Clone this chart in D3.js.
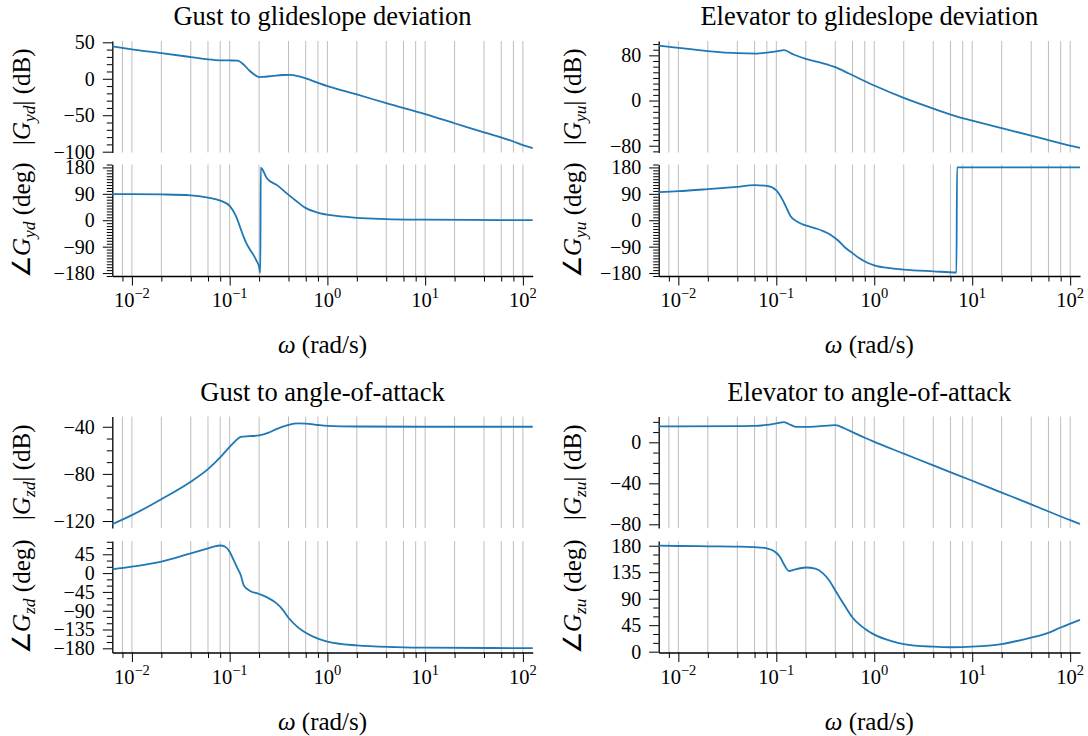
<!DOCTYPE html>
<html>
<head>
<meta charset="utf-8">
<script src="https://cdn.jsdelivr.net/npm/d3@7"></script>
<style>
  body { margin: 0; background: #fff; }
</style>
</head>
<body>
<div id="chart"></div>
<script>
/* Bode plots, 2x2 panels, magnitude over phase */

const titles = ["Gust to glideslope deviation", "Elevator to glideslope deviation",
                "Gust to angle-of-attack", "Elevator to angle-of-attack"];
const subs = ["yd", "yu", "zd", "zu"];

const xTickValues = [0.01, 0.1, 1, 10, 100];
const xTickExps = ["\u22122", "\u22121", "0", "1", "2"];

// Gust -> glideslope deviation
const gydMagW = [0.0063, 0.01, 0.02, 0.04, 0.06, 0.08, 0.1, 0.12, 0.14, 0.16, 0.18, 0.2, 0.22, 0.28, 0.35, 0.42, 0.5, 0.6, 0.8, 1, 2, 4, 10, 20, 40, 60, 80, 100, 126];
const gydMag  = [44.5, 40.4, 35.2, 29.8, 26.6, 25.3, 25.1, 24.8, 19, 11, 5.5, 2.3, 2.6, 4.1, 5.2, 5.4, 3.6, 0.5, -5.5, -10, -21.5, -33.5, -48.5, -61, -73.5, -80.5, -86, -91, -95];
const gydPhW  = [0.0063, 0.01, 0.02, 0.04, 0.06, 0.08, 0.1, 0.116, 0.137, 0.148, 0.16, 0.175, 0.189, 0.2, 0.206, 0.208, 0.24, 0.31, 0.39, 0.5, 0.59, 0.76, 1, 1.5, 2, 4, 10, 30, 126];
const gydPh   = [89, 89, 88, 85, 77, 67, 49, 14, -51, -78, -98, -118, -139, -158, -179, 179, 143, 118, 90, 61, 43, 28, 19, 12, 8, 4, 2, 1, 0.5];

// Elevator -> glideslope deviation
const gyuMagW = [0.0063, 0.01, 0.02, 0.04, 0.063, 0.08, 0.1, 0.12, 0.15, 0.2, 0.29, 0.4, 0.55, 1, 2, 4, 6.5, 10, 20, 40, 60, 100, 126];
const gyuMag  = [97.4, 93.3, 87.5, 83.8, 83.2, 84.8, 87, 89.1, 81.5, 73.8, 66.7, 59, 47.8, 26.6, 4.7, -14.2, -26.6, -35.5, -49, -62, -70, -80, -84];
const gyuPhW  = [0.0063, 0.01, 0.02, 0.04, 0.06, 0.08, 0.1, 0.117, 0.13, 0.14, 0.16, 0.18, 0.22, 0.26, 0.3, 0.36, 0.43, 0.5, 0.6, 0.7, 0.85, 1, 1.5, 2, 4, 6.9, 7.0, 10, 126];
const gyuPh   = [96, 99, 106, 114, 119.5, 117, 102, 67, 35, 14, -3, -12, -22, -29, -37, -50, -70, -92, -112, -129, -145, -154, -164, -168, -174, -178, 180, 180, 180];

// Gust -> angle of attack
const gzdMagW = [0.0063, 0.01, 0.02, 0.04, 0.06, 0.08, 0.1, 0.11, 0.12, 0.13, 0.16, 0.2, 0.25, 0.3, 0.4, 0.5, 0.6, 0.8, 1, 2, 10, 126];
const gzdMag  = [-122.7, -115, -101.5, -86.7, -76, -66, -57, -53.5, -50.5, -48.5, -48, -47.3, -45, -42, -38.5, -37.2, -37.3, -38.5, -39.2, -39.8, -40, -40];
const gzdPhW  = [0.0063, 0.01, 0.02, 0.04, 0.06, 0.07, 0.08, 0.09, 0.1, 0.11, 0.12, 0.13, 0.14, 0.16, 0.2, 0.25, 0.3, 0.35, 0.4, 0.5, 0.6, 0.8, 1, 2, 5, 10, 126];
const gzdPh   = [9, 15.4, 27.4, 47.3, 59.3, 64, 66, 63, 51, 31, 12, -5, -30, -42, -50, -60, -72, -88, -107, -130, -143, -157, -164, -173, -177, -178.5, -179.5];

// Elevator -> angle of attack
const gzuMagW = [0.0063, 0.01, 0.04, 0.06, 0.08, 0.1, 0.12, 0.14, 0.16, 0.2, 0.3, 0.4, 0.5, 0.6, 0.8, 1, 2, 4, 10, 20, 40, 100, 126];
const gzuMag  = [15.6, 15.6, 15.8, 16, 17, 18.5, 19.8, 17, 15, 15, 16, 16.8, 13.5, 10, 4.5, 0.5, -11, -22.5, -37.5, -49, -60.5, -76, -79.7];
const gzuPhW  = [0.0063, 0.01, 0.02, 0.04, 0.06, 0.08, 0.1, 0.11, 0.12, 0.135, 0.15, 0.2, 0.25, 0.3, 0.35, 0.4, 0.5, 0.6, 0.8, 1, 1.5, 2, 4, 6, 10, 20, 40, 60, 80, 126];
const gzuPh   = [180, 179.5, 179, 178.5, 177.5, 175.5, 168, 160, 148, 137, 139, 143, 141, 133, 120, 104, 78, 58, 39, 29, 18, 13, 8.5, 7.5, 8.5, 13, 24, 32, 41, 54];

// y tick labels
const gydMagTicks = [50, 0, -50, -100];
const gydPhTicks  = [180, 90, 0, -90, -180];
const gyuMagTicks = [80, 0, -80];
const gyuPhTicks  = [180, 90, 0, -90, -180];
const gzdMagTicks = [-40, -80, -120];
const gzdPhTicks  = [45, 0, -45, -90, -135, -180];
const gzuMagTicks = [0, -40, -80];
const gzuPhTicks  = [0, 45, 90, 135, 180];

let width = 1088, height = 736;
const serif = "Liberation Serif";

const cols = [[112.3, 532.7], [658.7, 1080]];
const rows = [{mag: [41, 152.5], ph: [164.5, 276]}, {mag: [416.5, 528], ph: [541, 652.5]}];
const ylabelX = [30, 581];

const panels = [
  {col: 0, row: 0, mag: {w: gydMagW, v: gydMag, ticks: gydMagTicks, step: 10, dom: [-101.1, 51.8]},
                   ph:  {w: gydPhW, v: gydPh, ticks: gydPhTicks, step: 10, dom: [-190, 190]}},
  {col: 1, row: 0, mag: {w: gyuMagW, v: gyuMag, ticks: gyuMagTicks, step: 10, dom: [-92, 105.4]},
                   ph:  {w: gyuPhW, v: gyuPh, ticks: gyuPhTicks, step: 10, dom: [-190, 190]}},
  {col: 0, row: 1, mag: {w: gzdMagW, v: gzdMag, ticks: gzdMagTicks, step: 10, dom: [-125.9, -31.3]},
                   ph:  {w: gzdPhW, v: gzdPh, ticks: gzdPhTicks, step: 15, dom: [-190, 76.8]}},
  {col: 1, row: 1, mag: {w: gzuMagW, v: gzuMag, ticks: gzuMagTicks, step: 10, dom: [-83.6, 25.2]},
                   ph:  {w: gzuPhW, v: gzuPh, ticks: gzuPhTicks, step: 15, dom: [-1.4, 188]}}
];

const xDomain = [0.0063, 126];
let xMinor = [];
for (let e = -3; e <= 1; e++) {
  for (let m of [2, 4, 6, 8]) {
    let v = m * Math.pow(10, e);
    if (v >= xDomain[0] && v <= xDomain[1]) xMinor.push(v);
  }
}
const gridValues = xTickValues.concat(xMinor);

const fmt = d => d < 0 ? "\u2212" + Math.abs(d) : String(d);

const svg = d3.select("#chart")
    .append("svg")
    .attr("width", width)
    .attr("height", height)
    .style("font-family", serif);

function drawAxes(x, yRange, spec, withX) {
  let y = d3.scaleLinear().domain(spec.dom).range([yRange[1], yRange[0]]);
  let g = svg.append("g");

  // vertical grid
  g.selectAll("line.grid")
    .data(gridValues)
    .join("line")
      .attr("class", "grid")
      .attr("x1", d => x(d)).attr("x2", d => x(d))
      .attr("y1", yRange[0]).attr("y2", yRange[1])
      .attr("stroke", "#bdbdbd")
      .attr("stroke-width", 1);

  // minor y ticks
  let lo = Math.ceil(spec.dom[0] / spec.step) * spec.step;
  let minor = d3.range(lo, spec.dom[1] + 1e-9, spec.step).filter(v => !spec.ticks.includes(v));
  g.append("g")
    .attr("transform", `translate(${x.range()[0]},0)`)
    .call(d3.axisLeft(y).tickValues(minor).tickSize(5.5).tickSizeOuter(0).tickFormat(""))
    .call(a => a.select(".domain").remove());

  g.append("g")
    .attr("transform", `translate(${x.range()[0]},0)`)
    .call(d3.axisLeft(y).tickValues(spec.ticks).tickSize(9.5).tickPadding(8).tickSizeOuter(0).tickFormat(fmt))
    .attr("font-size", 20)
    .attr("font-family", null)
    .call(a => a.selectAll("text").style("font-family", serif))
    .call(a => a.select(".domain").attr("stroke-width", 1.3));

  if (withX) {
    let b = g.append("g")
      .attr("transform", `translate(0,${yRange[1]})`);
    b.append("g")
      .call(d3.axisBottom(x).tickValues(xMinor).tickSize(5.5).tickSizeOuter(0).tickFormat(""))
      .call(a => a.select(".domain").remove());
    b.append("g")
      .call(d3.axisBottom(x).tickValues(xTickValues).tickSize(9.5).tickSizeOuter(0).tickFormat(""))
      .call(a => a.select(".domain").attr("stroke-width", 1.3));

    xTickValues.forEach((v, i) => {
      let t = b.append("text")
        .attr("x", x(v))
        .attr("y", 31)
        .attr("text-anchor", "middle")
        .attr("font-size", 20.5)
        .style("font-family", serif);
      t.append("tspan").text("10");
      t.append("tspan").attr("dy", -9).attr("font-size", 14.5).text(xTickExps[i]);
    });
  }

  let line = d3.line()
    .x(d => x(d[0]))
    .y(d => y(d[1]))
    .curve(d3.curveMonotoneX);

  g.append("path")
    .datum(d3.zip(spec.w, spec.v))
    .attr("d", line)
    .attr("fill", "none")
    .attr("stroke", "#1f77b4")
    .attr("stroke-width", 1.8);

  return y;
}

function yLabel(xPos, yRange, prefix, sub, suffix) {
  let t = svg.append("text")
    .attr("transform", `translate(${xPos},${(yRange[0] + yRange[1]) / 2}) rotate(-90)`)
    .attr("text-anchor", "middle")
    .attr("font-size", 25)
    .style("font-family", serif);
  t.append("tspan").text(prefix);
  t.append("tspan").attr("font-style", "italic").text("G");
  t.append("tspan").attr("font-style", "italic").attr("font-size", 17.5).attr("dy", 5).text(sub);
  t.append("tspan").attr("dy", -5).text(suffix);
}

panels.forEach((p, i) => {
  let c = cols[p.col], r = rows[p.row];
  let x = d3.scaleLog().domain(xDomain).range(c);

  svg.append("text")
    .attr("x", (c[0] + c[1]) / 2)
    .attr("y", r.mag[0] - 16)
    .attr("text-anchor", "middle")
    .attr("font-size", 26.5)
    .style("font-family", serif)
    .text(titles[i]);

  drawAxes(x, r.mag, p.mag, false);
  drawAxes(x, r.ph, p.ph, true);

  yLabel(ylabelX[p.col], r.mag, "|", subs[i], "| (dB)");
  yLabel(ylabelX[p.col], r.ph, "\u2220", subs[i], " (deg)");

  let xl = svg.append("text")
    .attr("x", (c[0] + c[1]) / 2)
    .attr("y", r.ph[1] + 77)
    .attr("text-anchor", "middle")
    .attr("font-size", 25)
    .style("font-family", serif);
  xl.append("tspan").attr("font-style", "italic").text("\u03c9");
  xl.append("tspan").text(" (rad/s)");
});
</script>
</body>
</html>
